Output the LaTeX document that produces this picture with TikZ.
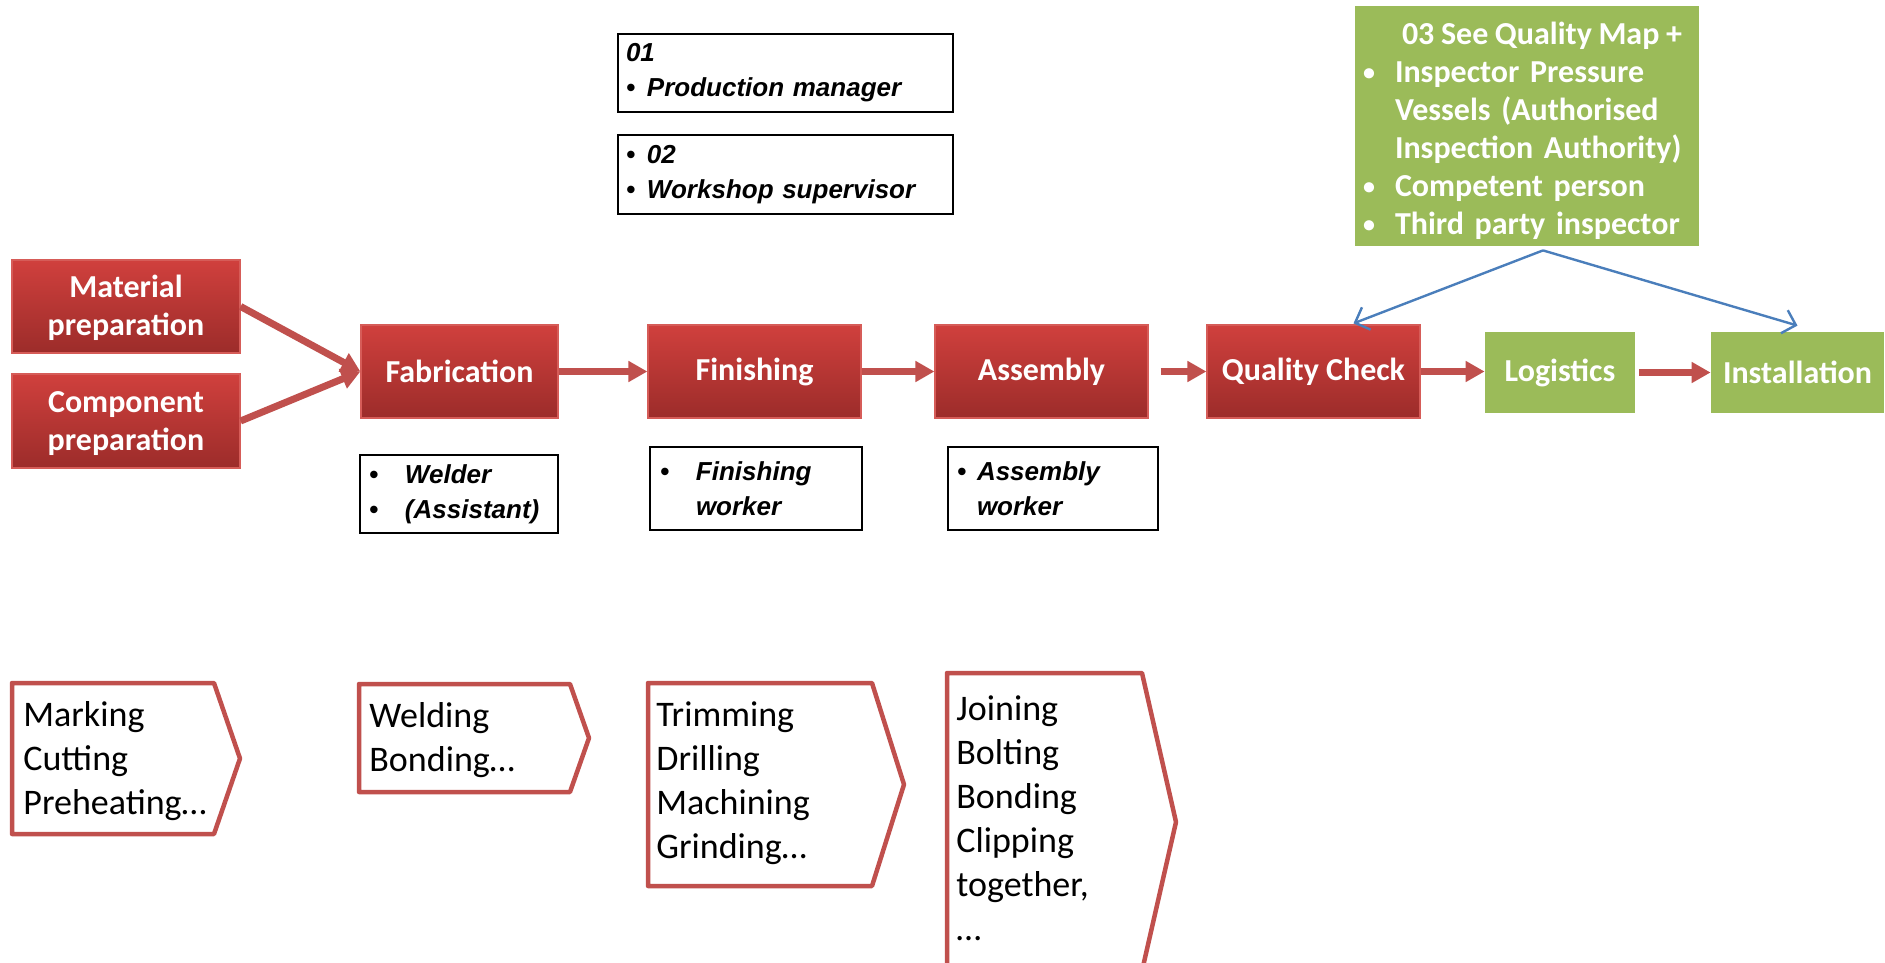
\documentclass[tikz,border=0pt]{standalone}
\usepackage{fontspec}
\setmainfont{Carlito}
\newfontfamily\arialf{Liberation Sans}
\usetikzlibrary{arrows.meta,calc}

\definecolor{redtop}{RGB}{208,64,61}
\definecolor{redbot}{RGB}{156,44,42}
\definecolor{rededge}{RGB}{214,92,88}
\definecolor{arrowred}{RGB}{192,80,77}
\definecolor{qgreen}{RGB}{155,187,89}
\definecolor{qblue}{RGB}{74,126,187}

\newcommand{\gbul}{\makebox[16pt][l]{\raisebox{1.2pt}{\fontsize{12}{12}\selectfont\textbullet}}}

\begin{document}
\begin{tikzpicture}[x=0.5pt,y=-0.5pt,
  redbox/.style={draw=rededge, line width=0.6pt, top color=redtop, bottom color=redbot, text=white, font=\fontsize{16}{19}\selectfont\bfseries, align=center, inner sep=0pt},
  greenbox/.style={fill=qgreen, text=white, font=\fontsize{16}{19}\selectfont\bfseries, align=left, inner sep=0pt},
  rolebox/.style={draw=black, line width=1pt, fill=white, font=\arialf\fontsize{13}{17.5}\selectfont\bfseries\itshape, align=left, inner sep=0pt},
  flowarrow/.style={draw=arrowred, line width=3.5pt, -{Triangle[width=10pt,length=9.5pt]}},
  bluearrow/.style={draw=qblue, line width=1.2pt, -{Straight Barb[length=6pt,width=12pt]}},
  stepshape/.style={draw=arrowred, line width=2.25pt, line join=round, fill=white},
  steptext/.style={font=\fontsize{18}{22}\selectfont, align=left, inner sep=0pt, anchor=west},
]
\useasboundingbox (0,0) rectangle (1885,963);
\clip (0,0) rectangle (1885,963);

% process boxes
\node[redbox, minimum width=114pt, minimum height=46.5pt] (mat) at (126,306.5) {\rule{0pt}{13pt}Material\\preparation};
\node[redbox, minimum width=114pt, minimum height=47pt] (comp) at (126,421) {\rule{0pt}{13pt}Component\\preparation};
\node[redbox, minimum width=98.5pt, minimum height=46.5pt] (fab) at (459.5,371.5) {Fabrication};
\node[redbox, minimum width=106.5pt, minimum height=46.5pt] (fin) at (754.5,371.5) {Finishing};
\node[redbox, minimum width=106.5pt, minimum height=46.5pt] (asm) at (1041.5,371.5) {Assembly};
\node[redbox, minimum width=106.5pt, minimum height=46.5pt] (qc) at (1313.5,371.5) {Quality Check};
\node[greenbox, align=center, minimum width=75pt, minimum height=40.5pt] (log) at (1560,372.5) {Logistics};
\node[greenbox, align=center, minimum width=86.5pt, minimum height=40.5pt] (inst) at (1797.5,372.5) {Installation};

% quality box
\node[greenbox, minimum width=172pt, minimum height=120pt, text width=164pt] (qmap) at (1527,126) {%
\rule{0pt}{16.5pt}\mbox{\hspace*{19.5pt}\spaceskip=3.3pt 03 See Quality Map +}\\
\gbul Inspector Pressure\\
\hspace*{16pt}Vessels (Authorised\\
\hspace*{16pt}Inspection Authority)\\
\gbul Competent person\\
\gbul Third party inspector};

% role boxes
\node[rolebox, minimum width=167.5pt, minimum height=39pt, text width=159.5pt] (r01) at (785.5,73) {01\\\makebox[10.5pt][l]{\textbullet}Production manager};
\node[rolebox, minimum width=167.5pt, minimum height=39.5pt, text width=159.5pt] (r02) at (785.5,174.5) {\makebox[10.5pt][l]{\textbullet}02\\\makebox[10.5pt][l]{\textbullet}Workshop supervisor};
\node[rolebox, minimum width=99pt, minimum height=39pt, text width=90pt] (rwel) at (459,494) {\makebox[18pt][l]{\textbullet}Welder\\\makebox[18pt][l]{\textbullet}(Assistant)};
\node[rolebox, minimum width=106pt, minimum height=41.5pt, text width=96pt] (rfin) at (756,488.5) {\makebox[18pt][l]{\textbullet}Finishing\\\hspace*{18pt}worker};
\node[rolebox, minimum width=105pt, minimum height=41.5pt, text width=96pt] (rasm) at (1053,488.5) {\makebox[10pt][l]{\textbullet}Assembly\\\hspace*{10pt}worker};

% flow arrows
\draw[flowarrow] (mat.east) -- (fab.west);
\draw[flowarrow] (comp.east) -- (fab.west);
\draw[flowarrow] (fab.east) -- (fin.west);
\draw[flowarrow] (fin.east) -- (asm.west);
\draw[flowarrow] ([xshift=6pt]asm.east) -- (qc.west);
\draw[flowarrow] (qc.east) -- (qc.east -| log.west);
\draw[flowarrow] ([xshift=2pt]log.east) -- (inst.west);

% blue arrows
\draw[bluearrow] ([shift={(16,4)}]qmap.south) -- ([shift={(40,-1)}]qc.north);
\draw[bluearrow] ([shift={(16,4)}]qmap.south) -- ([shift={(0,-6)}]inst.north);

% activity pentagons
\draw[stepshape] (12,683) -- (214,683) -- (240,758.5) -- (214,834) -- (12,834) -- cycle;
\node[steptext] (tmark) at (23,761) {Marking\\Cutting\\Preheating…};
\draw[stepshape] (359,684) -- (570,684) -- (589,738) -- (570,792) -- (359,792) -- cycle;
\node[steptext] (tweld) at (369,740) {Welding\\Bonding…};
\draw[stepshape] (648,683) -- (872,683) -- (904,784.5) -- (872,886) -- (648,886) -- cycle;
\node[steptext] (ttrim) at (656,783) {Trimming\\Drilling\\Machining\\Grinding…};
\draw[stepshape] (947,673) -- (1142,673) -- (1176,822) -- (1142,971) -- (947,971) -- cycle;
\node[steptext] (tjoin) at (956,818) {Joining\\Bolting\\Bonding\\Clipping\\together,\\…};
\end{tikzpicture}
\end{document}
